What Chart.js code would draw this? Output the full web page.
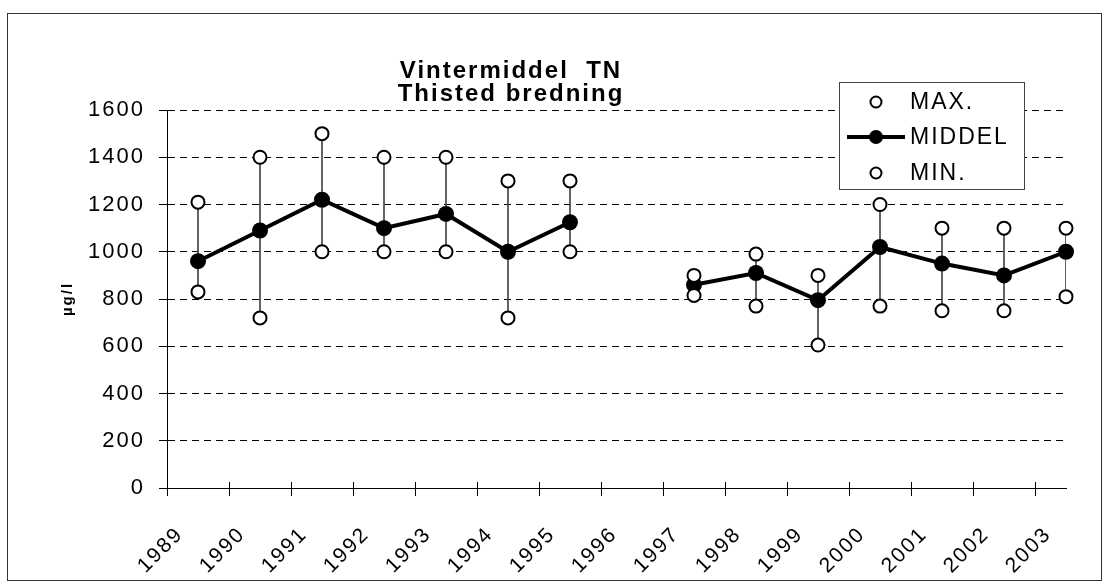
<!DOCTYPE html>
<html>
<head>
<meta charset="utf-8">
<script src="https://cdn.jsdelivr.net/npm/chart.js@4/dist/chart.umd.min.js"></script>
<style>
  html, body { margin: 0; padding: 0; background: #fff; }
  #wrap { position: relative; width: 1109px; height: 586px; }
</style>
</head>
<body>
<div id="wrap"><canvas id="tnChart"></canvas></div>
<script>
var years = ['1989','1990','1991','1992','1993','1994','1995','1996','1997','1998','1999','2000','2001','2002','2003'];
var maxVals = [1210, 1400, 1500, 1400, 1400, 1300, 1300, null, 900, 990, 900, 1200, 1100, 1100, 1100];
var middelVals = [960, 1090, 1220, 1100, 1160, 1000, 1125, null, 860, 910, 795, 1020, 950, 900, 1000];
var minVals = [830, 720, 1000, 1000, 1000, 720, 1000, null, 815, 770, 605, 770, 750, 750, 810];
var yTicks = [0, 200, 400, 600, 800, 1000, 1200, 1400, 1600];
var titleLines = ['Vintermiddel  TN', 'Thisted bredning'];

var FONT = "'Liberation Sans', Arial, sans-serif";
var SPACING = '2px';

function points(vals) {
    return vals.map(function(v, i) { return { x: i, y: v }; });
}

// the old chart has airy, letter-spaced text
var spacingPlugin = {
    id: 'spacing',
    beforeLayout: function(chart) { chart.ctx.letterSpacing = SPACING; },
    beforeDraw: function(chart) { chart.ctx.letterSpacing = SPACING; }
};

// ── Frame, title and legend box drawn over the chart ──
var decorPlugin = {
    id: 'decor',
    afterDraw: function(chart) {
        var ctx = chart.ctx;
        var xs = chart.scales.x;
        var area = chart.chartArea;
        ctx.save();
        // x tick marks poke a little above the axis too
        ctx.strokeStyle = '#000';
        ctx.lineWidth = 1;
        xs.ticks.forEach(function(t) {
            var px = Math.round(xs.getPixelForValue(t.value)) + 0.5;
            ctx.beginPath();
            ctx.moveTo(px, area.bottom - 6);
            ctx.lineTo(px, area.bottom);
            ctx.stroke();
        });

        // title
        ctx.fillStyle = '#000';
        ctx.textAlign = 'center';
        ctx.textBaseline = 'middle';
        ctx.font = 'bold 24px ' + FONT;
        ctx.fillText(titleLines[0], 511, 71);
        ctx.fillText(titleLines[1], 511, 94);

        // legend
        var lx = 839, ly = 82, lw = 185, lh = 107;
        ctx.fillStyle = '#fff';
        ctx.fillRect(lx, ly, lw, lh);
        ctx.strokeStyle = '#444';
        ctx.lineWidth = 1;
        ctx.strokeRect(lx + 0.5, ly + 0.5, lw, lh);
        var rows = [
            { label: 'MAX.', y: 102, kind: 'open' },
            { label: 'MIDDEL', y: 137, kind: 'line' },
            { label: 'MIN.', y: 173, kind: 'open' }
        ];
        ctx.font = '23px ' + FONT;
        ctx.textAlign = 'left';
        rows.forEach(function(r) {
            if (r.kind === 'line') {
                ctx.strokeStyle = '#000';
                ctx.lineWidth = 4;
                ctx.beginPath();
                ctx.moveTo(847, r.y);
                ctx.lineTo(905, r.y);
                ctx.stroke();
                ctx.fillStyle = '#000';
                ctx.beginPath();
                ctx.arc(876, r.y, 7, 0, Math.PI * 2);
                ctx.fill();
            } else {
                ctx.strokeStyle = '#000';
                ctx.lineWidth = 2;
                ctx.fillStyle = '#fff';
                ctx.beginPath();
                ctx.arc(876, r.y, 5.5, 0, Math.PI * 2);
                ctx.fill();
                ctx.stroke();
            }
            ctx.fillStyle = '#000';
            ctx.fillText(r.label, 910, r.y + 1);
        });

        // outer frame
        ctx.strokeStyle = '#333';
        ctx.lineWidth = 1;
        ctx.strokeRect(7.5, 13.5, 1094, 567);
        ctx.restore();
    }
};

new Chart(document.getElementById('tnChart').getContext('2d'), {
    type: 'line',
    data: {
        datasets: [
            {
                label: 'MAX.',
                data: points(maxVals),
                showLine: false,
                pointStyle: 'circle',
                pointRadius: 6.5,
                pointBackgroundColor: '#fff',
                pointBorderColor: '#000',
                pointBorderWidth: 2,
                clip: false,
                order: 0
            },
            {
                label: 'MIN.',
                data: points(minVals),
                showLine: false,
                pointStyle: 'circle',
                pointRadius: 6.5,
                pointBackgroundColor: '#fff',
                pointBorderColor: '#000',
                pointBorderWidth: 2,
                clip: false,
                order: 0
            },
            {
                label: 'MIDDEL',
                data: points(middelVals),
                borderColor: '#000',
                borderWidth: 4,
                pointRadius: 8,
                pointBackgroundColor: '#000',
                pointBorderWidth: 0,
                spanGaps: false,
                clip: false,
                order: 1
            },
            {
                type: 'bar',
                label: 'range',
                data: minVals.map(function(v, i) {
                    return { x: i, y: v === null ? null : [v, maxVals[i]] };
                }),
                backgroundColor: '#444',
                borderWidth: 0,
                barThickness: 1,
                grouped: false,
                order: 2
            }
        ]
    },
    options: {
        responsive: true,
        maintainAspectRatio: false,
        animation: false,
        layout: { padding: { left: 50, right: 43, top: 110, bottom: 0 } },
        plugins: {
            legend: { display: false },
            title: { display: false },
            tooltip: { enabled: false }
        },
        scales: {
            x: {
                type: 'linear',
                min: -0.5,
                max: 14,
                offset: false,
                afterBuildTicks: function(scale) {
                    scale.ticks = years.map(function(y, i) { return { value: i - 0.5 }; });
                },
                afterFit: function(scale) { scale.height = 98; },
                grid: {
                    display: true,
                    offset: false,
                    drawOnChartArea: false,
                    drawTicks: true,
                    tickLength: 8,
                    color: '#000',
                    tickColor: '#000'
                },
                border: { display: true, color: '#000', width: 1 },
                ticks: {
                    minRotation: 45,
                    maxRotation: 45,
                    autoSkip: false,
                    padding: 26,
                    labelOffset: 13,
                    color: '#000',
                    font: { family: FONT, size: 21 },
                    callback: function(value) {
                        return years[Math.round(value + 0.5)];
                    }
                }
            },
            y: {
                min: 0,
                max: 1600,
                afterBuildTicks: function(scale) {
                    scale.ticks = yTicks.map(function(v) { return { value: v }; });
                },
                afterFit: function(scale) { scale.width = 117; },
                title: {
                    display: true,
                    text: 'µg/l',
                    color: '#000',
                    font: { family: FONT, size: 15, weight: 'bold' },
                    padding: { top: 9, bottom: 0 }
                },
                grid: {
                    color: '#000',
                    lineWidth: 1,
                    tickLength: 8,
                    tickColor: '#000'
                },
                border: { display: true, color: '#000', width: 1, dash: [7, 5] },
                ticks: {
                    padding: 14,
                    color: '#000',
                    font: { family: FONT, size: 22 },
                    callback: function(value) { return String(value); }
                }
            }
        }
    },
    plugins: [spacingPlugin, decorPlugin]
});
</script>
</body>
</html>
